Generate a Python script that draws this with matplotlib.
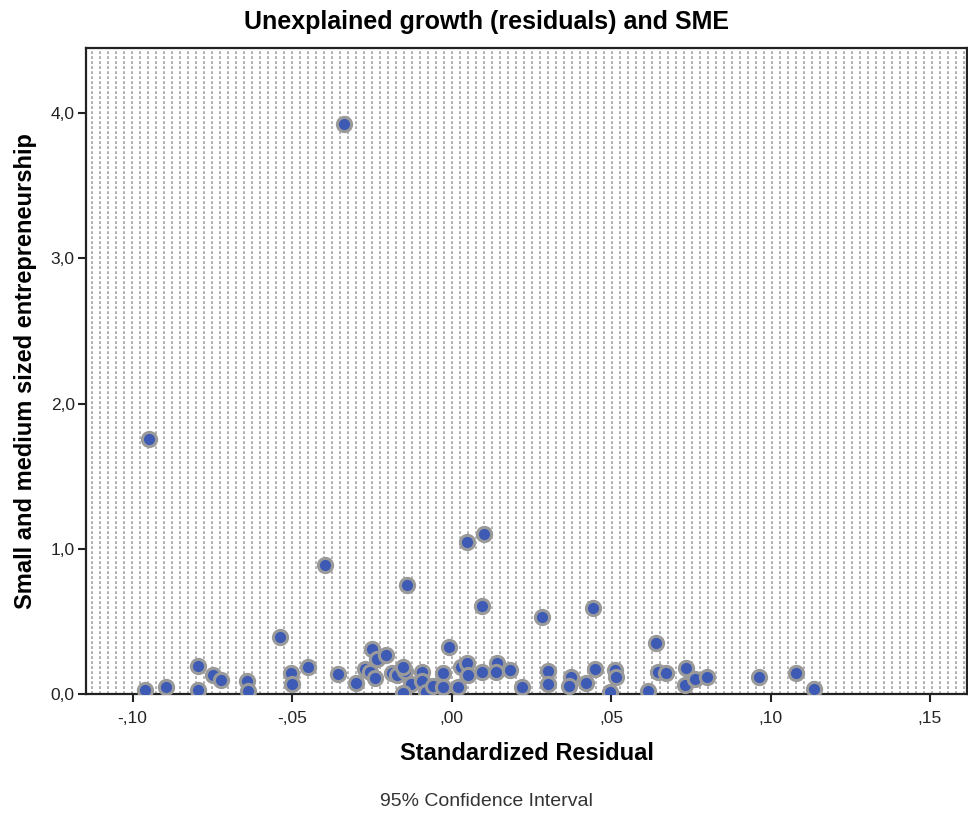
import numpy as np
import matplotlib
matplotlib.use('Agg')
import matplotlib.pyplot as plt
from matplotlib.ticker import FuncFormatter

plt.rcParams['font.family'] = ['Liberation Sans', 'DejaVu Sans']
plt.rcParams['lines.scale_dashes'] = False

# Standardized residual (x) and SME value (y)
resid = [-0.0338, -0.0949, 0.0050, 0.0103, -0.0398, -0.0140, 0.0094, 0.0284, 0.0445,
         -0.0538, -0.0009, 0.0642,
         -0.0961, -0.0895, -0.0795, -0.0795, -0.0748, -0.0723, -0.0642, -0.0639,
         -0.0504, -0.0501, -0.0451, -0.0357, -0.0301, -0.0250, -0.0235, -0.0204,
         -0.0272, -0.0257, -0.0241, -0.0188, -0.0172,
         -0.0147, -0.0153, -0.0128, -0.0094, -0.0094, -0.0081, -0.0153, -0.0059,
         -0.0028, -0.0028, 0.0019, 0.0031, 0.0047, 0.0053, 0.0094, 0.0141,
         0.0138, 0.0182, 0.0222, 0.0301, 0.0301, 0.0376, 0.0369, 0.0423, 0.0451,
         0.0513, 0.0517, 0.0498,
         0.0617, 0.0648, 0.0673, 0.0736, 0.0733, 0.0764, 0.0801, 0.0964, 0.1080, 0.1137]
sme = [3.924, 1.755, 1.047, 1.102, 0.888, 0.753, 0.606, 0.530, 0.592,
       0.392, 0.324, 0.351,
       0.028, 0.048, 0.193, 0.028, 0.131, 0.096, 0.090, 0.021,
       0.145, 0.069, 0.186, 0.138, 0.076, 0.310, 0.241, 0.268,
       0.172, 0.151, 0.110, 0.145, 0.131,
       0.158, 0.186, 0.069, 0.151, 0.090, 0.014, 0.007, 0.055,
       0.145, 0.048, 0.048, 0.186, 0.213, 0.131, 0.151, 0.213,
       0.151, 0.165, 0.048, 0.158, 0.069, 0.117, 0.055, 0.076, 0.172,
       0.165, 0.117, 0.014,
       0.021, 0.151, 0.145, 0.179, 0.062, 0.103, 0.117, 0.117, 0.145, 0.034]

x_ticks = [-0.10, -0.05, 0.00, 0.05, 0.10, 0.15]
y_ticks = [0.0, 1.0, 2.0, 3.0, 4.0]


def fmt_x(v, pos):
    s = f'{v:.2f}'.replace('.', ',')
    return s.replace('0,', ',', 1) if s.startswith(('0', '-0')) else s


def fmt_y(v, pos):
    return f'{v:.1f}'.replace('.', ',')


fig = plt.figure(figsize=(9.68, 8.14), dpi=100)
ax = fig.add_axes([0.0888, 0.1474, 0.9102, 0.7937])

# dotted vertical fill pattern
xs = np.arange(6.5 / 882, 1, 8 / 882)
ax.vlines(xs, 0, 1, transform=ax.transAxes, colors='#9a9a9a',
          linewidth=1.1, linestyles=[(0, (2.0, 1.6))], zorder=1)

ax.scatter(resid, sme, s=105, c='#3d5bb5', edgecolors='#9a9a9a',
           linewidths=2.2, zorder=3)

ax.set_xlim(-0.1146, 0.1616)
ax.set_ylim(0, 4.448)
ax.set_xticks(x_ticks)
ax.set_yticks(y_ticks)
ax.xaxis.set_major_formatter(FuncFormatter(fmt_x))
ax.yaxis.set_major_formatter(FuncFormatter(fmt_y))
ax.tick_params(axis='both', direction='out', length=6, width=1.5,
               labelsize=12.5, colors='#222222')
ax.tick_params(axis='x', pad=6)
ax.tick_params(axis='y', pad=2)
for sp in ax.spines.values():
    sp.set_linewidth(1.6)
    sp.set_color('#222222')

ax.set_xlabel('Standardized Residual', fontsize=17, fontweight='bold', labelpad=12)
ax.set_ylabel('Small and medium sized entrepreneurship', fontsize=17,
              fontweight='bold', labelpad=10)
fig.text(0.503, 0.973, 'Unexplained growth (residuals) and SME', ha='center',
         va='center', fontsize=18, fontweight='bold')
fig.text(0.503, 0.015, '95% Confidence Interval', ha='center', va='center',
         fontsize=14, color='#333333')

fig.savefig('out.png', dpi=100)
